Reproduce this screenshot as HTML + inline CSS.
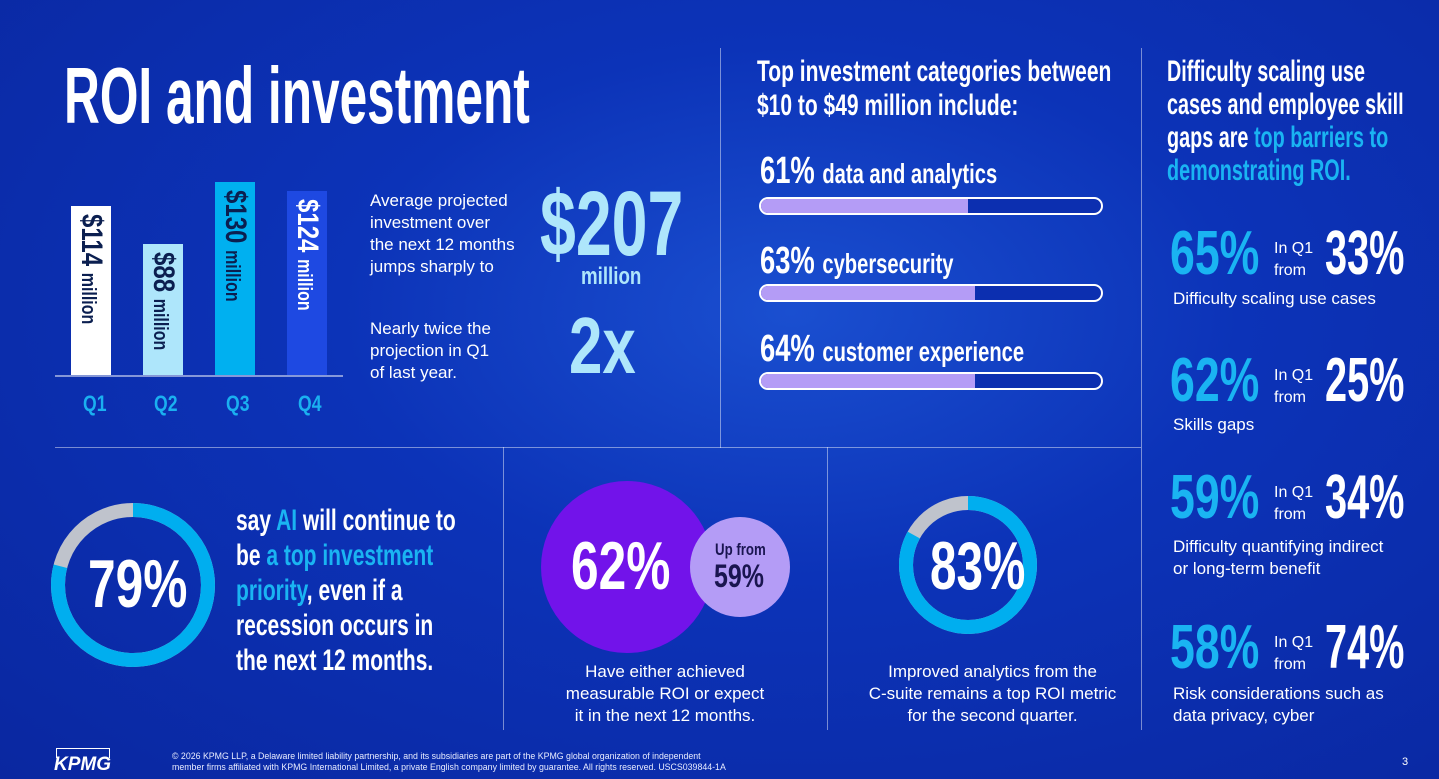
<!DOCTYPE html>
<html><head><meta charset="utf-8"><style>
*{margin:0;padding:0;box-sizing:border-box}
body{width:1439px;height:779px;overflow:hidden;position:relative;font-family:"Liberation Sans",sans-serif;color:#fff;
background:radial-gradient(ellipse at 55% 40%,#1a4fd0 0%,#0c33b8 40%,#0a27a0 100%)}
.a{position:absolute;white-space:nowrap}
.c{font-family:"Liberation Sans Narrow","Liberation Sans",sans-serif;font-weight:bold;transform-origin:0 0;transform:scaleX(.78);display:inline-block}
.ln{position:absolute;background:rgba(255,255,255,.45)}
.bar{position:absolute;width:40px}
.vt{position:absolute;left:50%;top:8px;transform-origin:0 0;font-family:"Liberation Sans Narrow",sans-serif;font-weight:bold;white-space:nowrap}
.q{position:absolute;top:391px;color:#1ab0f0;font-size:22px;font-family:"Liberation Sans Narrow",sans-serif;font-weight:bold;transform:scaleX(.8);transform-origin:0 0}
.pb{position:absolute;left:759px;width:344px;height:18px;border:2px solid #fff;border-radius:9px;overflow:hidden;background:#0c2fb0}
.pb i{display:block;height:100%;background:#b49cf6}
.p{font-size:20px;line-height:23px}
.lb{color:#1ab4f2}
</style></head><body>
<div class="ln" style="left:720px;top:48px;width:1px;height:400px"></div>
<div class="ln" style="left:1141px;top:48px;width:1px;height:682px"></div>
<div class="ln" style="left:55px;top:447px;width:1086px;height:1px"></div>
<div class="ln" style="left:503px;top:447px;width:1px;height:283px"></div>
<div class="ln" style="left:827px;top:447px;width:1px;height:283px"></div>

<div class="a" style="left:64px;top:50px;font-size:80px"><span class="c" style="transform:scaleX(.62)">ROI and investment</span></div>

<!-- bars -->
<div class="ln" style="left:55px;top:375px;width:288px;height:2px;background:rgba(255,255,255,.5)"></div>
<div class="bar" style="left:71px;top:206px;height:169px;background:#fff"><div class="vt" style="color:#0b1f50;font-size:30px;transform:rotate(90deg) translate(0,-17px) scaleX(.8)">$114 <span style="font-size:20px">million</span></div></div>
<div class="bar" style="left:143px;top:244px;height:131px;background:#aee6fb"><div class="vt" style="color:#0b1f50;font-size:30px;transform:rotate(90deg) translate(0,-17px) scaleX(.8)">$88 <span style="font-size:20px">million</span></div></div>
<div class="bar" style="left:215px;top:182px;height:193px;background:#00b0f0"><div class="vt" style="color:#0b1f50;font-size:30px;transform:rotate(90deg) translate(0,-17px) scaleX(.8)">$130 <span style="font-size:20px">million</span></div></div>
<div class="bar" style="left:287px;top:191px;height:184px;background:#1e49e2"><div class="vt" style="color:#fff;font-size:30px;transform:rotate(90deg) translate(0,-17px) scaleX(.8)">$124 <span style="font-size:20px">million</span></div></div>
<div class="q" style="left:83px">Q1</div><div class="q" style="left:154px">Q2</div><div class="q" style="left:226px">Q3</div><div class="q" style="left:298px">Q4</div>

<div class="a p" style="left:370px;top:190px;font-size:17px;line-height:22px">Average projected<br>investment over<br>the next 12 months<br>jumps sharply to</div>
<div class="a" style="left:540px;top:172px;font-size:92px;color:#aee6fb"><span class="c" style="transform:scaleX(.7)">$207</span></div>
<div class="a" style="left:581px;top:263px;font-size:24px;color:#aee6fb"><span class="c">million</span></div>
<div class="a p" style="left:370px;top:318px;font-size:17px;line-height:22px">Nearly twice the<br>projection in Q1<br>of last year.</div>
<div class="a" style="left:569px;top:300px;font-size:80px;color:#aee6fb"><span class="c" style="transform:scaleX(.75)">2x</span></div>

<!-- top investment -->
<div class="a" style="left:757px;top:55px;font-size:30px;line-height:34px"><span class="c" style="transform:scaleX(.7)">Top investment categories between<br>$10 to $49 million include:</span></div>
<div class="a" style="left:760px;top:150px;font-size:38px"><span class="c" style="transform:scaleX(.72)">61% <span style="font-size:28px">data and analytics</span></span></div>
<div class="pb" style="top:197px"><i style="width:61%"></i></div>
<div class="a" style="left:760px;top:240px;font-size:38px"><span class="c" style="transform:scaleX(.72)">63% <span style="font-size:28px">cybersecurity</span></span></div>
<div class="pb" style="top:284px"><i style="width:63%"></i></div>
<div class="a" style="left:760px;top:328px;font-size:38px"><span class="c" style="transform:scaleX(.72)">64% <span style="font-size:28px">customer experience</span></span></div>
<div class="pb" style="top:372px"><i style="width:63%"></i></div>

<!-- right column -->
<div class="a" style="left:1167px;top:55px;font-size:30px;line-height:33px"><span class="c" style="transform:scaleX(.66)">Difficulty scaling use<br>cases and employee skill<br>gaps are <span class="lb">top barriers to<br>demonstrating ROI.</span></span></div>

<div class="a" style="left:1170px;top:218px;font-size:62px;color:#1ab4f2"><span class="c" style="transform:scaleX(.72)">65%</span></div>
<div class="a" style="left:1274px;top:238px;font-size:16px;line-height:22px">In Q1<br>from</div>
<div class="a" style="left:1325px;top:218px;font-size:62px"><span class="c" style="transform:scaleX(.64)">33%</span></div>
<div class="a p" style="left:1173px;top:287px;font-size:17px">Difficulty scaling use cases</div>

<div class="a" style="left:1170px;top:345px;font-size:62px;color:#1ab4f2"><span class="c" style="transform:scaleX(.72)">62%</span></div>
<div class="a" style="left:1274px;top:365px;font-size:16px;line-height:22px">In Q1<br>from</div>
<div class="a" style="left:1325px;top:345px;font-size:62px"><span class="c" style="transform:scaleX(.64)">25%</span></div>
<div class="a p" style="left:1173px;top:413px;font-size:17px">Skills gaps</div>

<div class="a" style="left:1170px;top:462px;font-size:62px;color:#1ab4f2"><span class="c" style="transform:scaleX(.72)">59%</span></div>
<div class="a" style="left:1274px;top:482px;font-size:16px;line-height:22px">In Q1<br>from</div>
<div class="a" style="left:1325px;top:462px;font-size:62px"><span class="c" style="transform:scaleX(.64)">34%</span></div>
<div class="a p" style="left:1173px;top:536px;font-size:17px;line-height:22px">Difficulty quantifying indirect<br>or long-term benefit</div>

<div class="a" style="left:1170px;top:612px;font-size:62px;color:#1ab4f2"><span class="c" style="transform:scaleX(.72)">58%</span></div>
<div class="a" style="left:1274px;top:632px;font-size:16px;line-height:22px">In Q1<br>from</div>
<div class="a" style="left:1325px;top:612px;font-size:62px"><span class="c" style="transform:scaleX(.64)">74%</span></div>
<div class="a p" style="left:1173px;top:683px;font-size:17px;line-height:22px">Risk considerations such as<br>data privacy, cyber</div>

<!-- donuts -->
<svg class="a" style="left:0;top:0" width="1439" height="779">
<circle cx="133" cy="585" r="75" fill="none" stroke="#bfc3cc" stroke-width="14"/>
<circle cx="133" cy="585" r="75" fill="none" stroke="#00aeef" stroke-width="14" stroke-dasharray="372.3 471.2" transform="rotate(-90 133 585)"/>
<circle cx="968" cy="565" r="62" fill="none" stroke="#bfc3cc" stroke-width="14"/>
<circle cx="968" cy="565" r="62" fill="none" stroke="#00aeef" stroke-width="14" stroke-dasharray="323.3 389.6" transform="rotate(-90 968 565)"/>
<circle cx="627" cy="567" r="86" fill="#7213ea"/>
<circle cx="740" cy="567" r="50" fill="#b49cf6"/>
</svg>
<div class="a" style="left:88px;top:545px;font-size:68px"><span class="c" style="transform:scaleX(.73)">79%</span></div>
<div class="a" style="left:236px;top:503px;font-size:30px;line-height:35px"><span class="c" style="transform:scaleX(.7)">say <span class="lb">AI</span> will continue to<br>be <span class="lb">a top investment<br>priority</span>, even if a<br>recession occurs in<br>the next 12 months.</span></div>

<div class="a" style="left:571px;top:527px;font-size:68px"><span class="c" style="transform:scaleX(.73)">62%</span></div>
<div class="a" style="left:715px;top:540px;font-size:17px;color:#1a1550"><span class="c">Up from</span></div>
<div class="a" style="left:714px;top:558px;font-size:32px;color:#1a1550"><span class="c">59%</span></div>
<div class="a" style="left:540px;top:661px;width:250px;text-align:center;font-size:17px;line-height:22px">Have either achieved<br>measurable ROI or expect<br>it in the next 12 months.</div>

<div class="a" style="left:930px;top:527px;font-size:68px"><span class="c" style="transform:scaleX(.7)">83%</span></div>
<div class="a" style="left:850px;top:661px;width:285px;text-align:center;font-size:17px;line-height:22px">Improved analytics from the<br>C-suite remains a top ROI metric<br>for the second quarter.</div>

<!-- footer -->
<div class="a" style="left:56px;top:748px;width:54px;height:10px;border:1px solid #fff;border-bottom:none"></div>
<div class="a" style="left:54px;top:754px;font-size:19px;font-weight:bold;font-style:italic">KPMG</div>
<div class="a" style="left:172px;top:751px;font-size:8.8px;line-height:11px;color:#e8ecff">© 2026 KPMG LLP, a Delaware limited liability partnership, and its subsidiaries are part of the KPMG global organization of independent<br>member firms affiliated with KPMG International Limited, a private English company limited by guarantee. All rights reserved. USCS039844-1A</div>
<div class="a" style="left:1402px;top:756px;font-size:11px">3</div>
</body></html>
